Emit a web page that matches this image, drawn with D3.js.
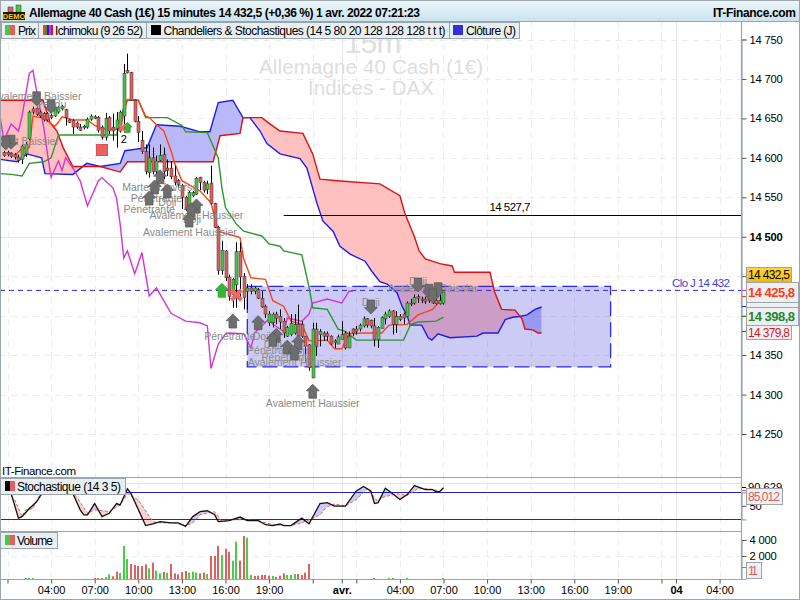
<!DOCTYPE html>
<html>
<head>
<meta charset="utf-8">
<script type="text/javascript" src="https://d3js.org/d3.v7.min.js"></script>
<title>Allemagne 40 Cash</title>
<style>
body { margin:0; background:#fff; }
text { font-family:"Liberation Sans", Arial, sans-serif; }
</style>
</head>
<body>
<div id="chart"></div>
<script type="text/javascript">
(function(){

// candles, bar index = quarter hours since 31 mar 00:00
var firstBar = 3;
var opens = [14607,14607,14606,14604,14601,14598,14605,14624,14662,14663,
  14658,14656,14656,14654,14653,14658,14662,14661,14648,14647,
  14644,14639,14638,14639,14649,14652,14651,14639,14626,14651,
  14639,14637,14634,14653,14711,14708,14673,14646,14622,14608,
  14581,14600,14583,14597,14604,14587,14587,14577,14571,14565,
  14550,14538,14552,14554,14575,14569,14560,14568,14542,14512,
  14457,14482,14449,14427,14439,14481,14450,14431,14435,14431,
  14433,14422,14412,14391,14391,14402,14399,14393,14374,14376,
  14378,14389,14389,14374,14363,14321,14383,14376,14378,14377,
  14374,14368,14364,14370,14378,14359,14383,14383,14383,14387,
  14396,14394,14387,14370,14384,14396,14399,14406,14389,14399,
  14402,14399,14416,14416,14424,14421,14421,14421,14421,14419,
  14415,14416];
var closes = [14603,14604,14602,14601,14597,14615,14617,14658,14658,14655,
  14653,14648,14648,14651,14662,14664,14665,14651,14645,14639,
  14639,14635,14640,14649,14653,14650,14635,14626,14650,14634,
  14634,14648,14658,14707,14708,14673,14646,14632,14608,14583,
  14600,14583,14596,14603,14583,14584,14576,14569,14566,14550,
  14535,14556,14556,14574,14569,14559,14567,14542,14512,14457,
  14483,14448,14424,14446,14481,14449,14423,14435,14431,14435,
  14422,14411,14402,14402,14402,14397,14392,14378,14385,14390,
  14389,14374,14374,14361,14334,14383,14361,14380,14374,14374,
  14364,14366,14373,14376,14359,14374,14378,14380,14388,14396,
  14388,14387,14370,14385,14398,14402,14406,14389,14399,14395,
  14397,14416,14415,14423,14422,14419,14418,14419,14416,14415,
  14419,14430];
var highs = [14609,14609,14607,14606,14604,14617,14620,14660,14665,14665,
  14660,14658,14658,14656,14663,14666,14667,14662,14649,14649,
  14646,14643,14642,14651,14655,14654,14653,14641,14657,14653,
  14656,14658,14660,14719,14732,14709,14674,14653,14634,14617,
  14617,14613,14603,14617,14613,14598,14596,14590,14573,14567,
  14552,14558,14558,14576,14576,14571,14571,14590,14543,14514,
  14495,14483,14452,14448,14493,14493,14454,14440,14440,14437,
  14435,14431,14414,14406,14404,14405,14408,14397,14387,14402,
  14402,14414,14393,14374,14364,14391,14391,14383,14380,14380,
  14375,14370,14376,14393,14380,14380,14384,14387,14390,14399,
  14397,14395,14397,14387,14399,14405,14408,14407,14406,14402,
  14404,14418,14421,14427,14427,14424,14424,14423,14423,14421,
  14427,14432];
var lows = [14601,14602,14600,14598,14594,14592,14601,14622,14655,14653,
  14651,14646,14646,14649,14652,14656,14660,14641,14644,14630,
  14637,14634,14636,14637,14647,14649,14632,14623,14622,14630,
  14622,14613,14632,14632,14707,14672,14645,14620,14605,14579,
  14575,14579,14579,14596,14573,14577,14573,14565,14562,14535,
  14533,14536,14550,14553,14559,14556,14554,14541,14511,14452,
  14452,14444,14419,14410,14410,14421,14408,14408,14427,14427,
  14421,14410,14397,14387,14385,14389,14383,14372,14373,14374,
  14376,14372,14372,14342,14330,14321,14349,14361,14368,14368,
  14363,14359,14364,14370,14357,14359,14374,14376,14380,14385,
  14385,14384,14361,14359,14384,14389,14397,14376,14378,14393,
  14389,14399,14412,14414,14416,14416,14415,14416,14415,14414,
  14414,14414];

// ichimoku, vertices: [bar, price]
var tenkan = [[6,14603],[8,14612],[10,14613],[11,14653],[14,14650],[17,14640],[18,14645],[19,14652],[22,14648],[26,14648],[28,14641],[30,14637],[35,14636],[36,14657],[37,14674],[40,14673],[42,14653],[43,14651],[45,14642],[47,14634],[49,14609],[50,14593],[52,14571],[57,14558],[60,14543],[62,14507],[68,14499],[69,14472],[71,14448],[75,14446],[77,14419],[80,14412],[82,14393],[85,14389],[87,14368],[92,14369],[94,14358],[96,14358],[98,14377],[102,14378],[107,14378],[109,14388],[114,14389],[117,14401],[121,14408],[124,14424]];
var kijun = [[2,14580],[5,14579],[8,14577],[10,14593],[14,14595],[16,14600],[18,14629],[34,14629],[36,14664],[37,14673],[40,14673],[42,14651],[48,14651],[52,14641],[53,14633],[59,14632],[62,14600],[63,14562],[64,14537],[67,14516],[69,14507],[74,14501],[76,14491],[79,14488],[80,14482],[85,14477],[87,14436],[88,14410],[92,14408],[95,14383],[97,14380],[100,14369],[113,14369],[115,14389],[117,14392],[122,14393],[124,14398]];
var senkouA = [[0,14598],[2,14598],[6.6,14595],[9.3,14605],[13.4,14600],[14.3,14580],[22,14579],[25.8,14593],[29.5,14589],[35,14593],[36.3,14609],[42.4,14613],[45,14642],[51.5,14640],[57,14633],[59.7,14633],[62,14670],[66,14673],[68.8,14651],[70.7,14651],[73.5,14634],[75.4,14618],[79,14605],[84.5,14599],[86.4,14587],[89.2,14542],[90.8,14520],[93.6,14507],[95.5,14488],[98.3,14478],[102.4,14469],[104.3,14456],[106.5,14443],[108.5,14440],[111.2,14429],[112.6,14412],[114,14400],[114.8,14388],[118,14388],[119.8,14372],[120.8,14369],[122.5,14377],[125.8,14372],[133.2,14374],[134.9,14378],[139,14378],[141,14395],[143,14398],[145,14399],[147,14401],[149.2,14408],[151,14411]];
var senkouB = [[0,14673],[13.8,14673],[15.7,14645],[17.6,14634],[19.3,14613],[22,14589],[29.5,14589],[35,14582],[37,14595],[60.6,14595],[62.5,14628],[68,14631],[68.8,14651],[74,14651],[76.2,14643],[79,14634],[85.3,14631],[88,14605],[90,14573],[94.7,14571],[106.5,14567],[112,14552],[113.4,14529],[116,14500],[117.3,14482],[119,14472],[123,14466],[126.4,14463],[127,14455],[136.8,14455],[138,14431],[140,14408],[143.7,14407],[145.6,14396],[146.4,14383],[148.6,14382],[150,14378],[151,14378]];
var chikou = [[2,14651],[3,14622],[5,14643],[7,14634],[8,14653],[10,14707],[11,14711],[12,14685],[14,14638],[15,14605],[16,14575],[18,14596],[19,14584],[20,14600],[22,14587],[24,14571],[26,14539],[29,14571],[30,14575],[33,14562],[34,14549],[35,14516],[36,14473],[37,14482],[39,14453],[41,14480],[43,14425],[45,14435],[47,14419],[49,14403],[53,14393],[57,14391],[59,14387],[60,14333],[62,14364],[64,14377],[65,14378],[69,14377],[71,14359],[72,14378],[76,14396],[77,14389],[80,14380],[81,14397],[85,14393],[87,14402],[88,14416],[92,14421],[96,14416],[98,14431],[99,14431]];

// stochastic
var stochK = [[5,77],[7,22.6],[8,26],[10,44],[12,59],[14,84],[18,93],[22,77],[24,41],[25,30],[26,30],[28,55],[30,26],[32,33.5],[34,55],[35,52],[37,88],[38,77],[42,6],[44,10],[46,15],[49,12],[51,12],[53,4.4],[55,26],[57,37],[59,39],[61,30],[62,15],[65,17],[68,25],[70,17],[73,17],[75,8],[77,6],[79,9.5],[80,6],[82,6],[85,22.6],[87,10],[90,55],[92,57],[94,49.5],[97,49.5],[100,83],[102,93],[104,83],[105,55],[106,57],[108,89],[110,77],[112,64],[114,75],[116,95],[119,86],[121,86],[122,81],[123,82],[124,90]];
var stochD = [[5,72],[6,63],[8,26],[9,41],[11,44],[13,77],[16,92],[20,92],[23,70],[26,33.5],[28,41],[32,37],[35,52],[37,77],[40,63],[44,15],[46,12],[50,12],[53,6],[55,12],[57,30],[61,37],[63,15],[66,19],[69,19],[73,17],[77,8],[82,6],[85,12],[87,19],[90,30],[92,48],[94,54],[97,49.5],[100,64],[103,88],[106,59],[107,68],[111,77],[114,73],[117,88],[120,88],[123,83],[124,85]];

// volume
var volumeBars = [9,10,11,28,29,30,31,32,33,34,35,36,37,38,39,40,41,42,43,44,45,46,47,48,49,50,51,52,53,54,55,56,57,58,59,60,61,62,63,64,65,66,67,68,69,70,71,72,73,74,75,76,77,78,79,80,81,82,83,84,85,86,87,105,109,110,114,124];
var volumeValues = [87,87,87,87,87,87,174,406,232,638,522,3250,1740,1305,1218,1131,1131,1276,928,1421,725,493,609,551,1305,493,406,609,696,551,638,551,493,551,435,2000,2000,3250,2125,2915,2540,1595,3790,1595,4500,4290,348,261,290,348,348,290,261,174,290,493,348,348,435,435,348,551,1305,87,87,87,87,87];
var volumeUp = [9,10,11,31,32,35,36,37,43,45,46,48,54,55,56,59,63,66,67,70,71,77,81,82,83,109,114,124];

// ticks
var priceTicks = [14750,14700,14650,14600,14550,14500,14450,14400,14350,14300,14250];
var timeBars = [4,16,28,40,52,64,76,88,96,100,112,124,136,148,160,172,184,188,200];
var timeLabels = ["","04:00","07:00","10:00","13:00","16:00","19:00","","avr.","","04:00","07:00","10:00","13:00","16:00","19:00","","04","04:00"];
var dayBars = [96,188];

// levels
var closeDay = 14432;
var level = 14527.7;
var levelBar = 80;
var boxBars = [70,170];
var boxPrices = [14437,14335];

// chart patterns
var upBars = [46,44.5,48,43,56,54.5,54,66,73,78,77,81,84,83,88];
var upPrices = [14585,14572,14567,14558,14548,14543,14530,14402,14400,14384,14379,14369,14375,14362,14313];
var downBars = [12,16,5,3.5,104,117,120,122.5,121];
var downPrices = [14666,14656,14611,14610,14402,14430,14422,14424,14416];
var labelTexts = ["Avalement Baissier","Pendu","Avalement Baissier","Doji","Marteau Inversé","Pénétrante","Doji","Pénétrante","Avalement Haussier","Doji","Avalement Haussier","Pénétrante","Doji","Doji","Pénétrante","Doji","Pénétrante","Avalement Haussier","Avalement Haussier","Doji","Doji","Avalement Baissier"];
var labelBars = [12,16,5.8,3.3,46,45,48,43,56,54.8,54.2,65.2,74,77,77,84,81,83,88,104,117,121];
var labelPrices = [14673,14663,14616,14616,14558,14544,14539,14530,14522,14517,14501,14369,14369,14359,14351,14351,14342,14336,14284,14412,14439,14430];

var legendItems = ["Prix","Ichimoku (9 26 52)","Chandeliers & Stochastiques (14 5 80 20 128 128 128 t t t)","Clôture (J)"];
var titleText = "Allemagne 40 Cash (1€) 15 minutes 14 432,5 (+0,36 %) 1 avr. 2022 07:21:23";

var w = 800, h = 600;
var axisX = 741;
var green = "#46c846", red = "#e06060", frame = "#9aa6ac";

var svg = d3.select("#chart").append("svg").attr("width", w).attr("height", h)
  .style("display", "block");
var defs = svg.append("defs");

var x = d3.scaleLinear().domain([0,200]).range([-7,719.6]);
var y = d3.scaleLinear().domain([14750,14250]).range([39.5,434]);
var yS = d3.scaleLinear().domain([80,20]).range([492.3,519.3]);
var yV = d3.scaleLinear().domain([0,2000,4000]).range([579,556,540]);

var frFormat = d3.formatLocale({decimal:",", thousands:" ", grouping:[3], currency:["","€"]}).format(",d");

// squeeze a text into the width it has in the picture
function fit(sel, len) { return sel.attr("textLength", len).attr("lengthAdjust", "spacing"); }

svg.append("rect").attr("width", w).attr("height", h).attr("fill", "#fff");

// ---- grid
function hGrid(vals, sc) {
  svg.append("g").selectAll("line").data(vals).enter().append("line")
    .attr("x1", 0).attr("x2", axisX).attr("y1", function(d){return Math.round(sc(d))+0.5;}).attr("y2", function(d){return Math.round(sc(d))+0.5;})
    .attr("stroke", function(d){return d==14500 ? "#e6e6e6" : "#ececec";})
    .attr("stroke-dasharray", function(d){return d==14500 ? null : "6,5";});
}
hGrid(priceTicks, y);
hGrid([2000], yV);
svg.append("g").selectAll("line").data(timeBars).enter().append("line")
  .attr("x1", function(d){return Math.round(x(d))+0.5;}).attr("x2", function(d){return Math.round(x(d))+0.5;})
  .attr("y1", 22).attr("y2", 579)
  .attr("stroke", function(d){return dayBars.indexOf(d)>=0 ? "#e6e6e6" : "#ececec";})
  .attr("stroke-dasharray", function(d){return dayBars.indexOf(d)>=0 ? null : "6,5";});

// ---- watermark
var mark = svg.append("g").attr("fill", "#dedede").attr("text-anchor", "middle");
fit(mark.append("text").attr("x", 373).attr("y", 53).attr("font-size", 30).text("15m"), 57);
fit(mark.append("text").attr("x", 371).attr("y", 74).attr("font-size", 20.5).text("Allemagne 40 Cash (1€)"), 224);
fit(mark.append("text").attr("x", 371).attr("y", 95).attr("font-size", 20.5).text("Indices - DAX"), 126);

// ---- cloud, each colour is the area under one line clipped above the other
function under(id, a, b, c0, c1, sc, par, bottom, top) {
  defs.append("clipPath").attr("id", id).append("path")
    .attr("d", d3.area().x(function(d){return x(d[0]);}).y0(top).y1(function(d){return sc(d[1]);})(b));
  par.append("path")
    .attr("d", d3.area().x(function(d){return x(d[0]);}).y0(bottom).y1(function(d){return sc(d[1]);})(a))
    .attr("fill", c0).attr("fill-opacity", c1).attr("clip-path", "url(#"+id+")");
}
var cloud = svg.append("g");
under("cA", senkouA, senkouB, "#b9b9fa", 1, y, cloud, 477, 39);
under("cB", senkouB, senkouA, "#ffc0c0", 1, y, cloud, 477, 39);

// ---- level box
svg.append("rect")
  .attr("x", x(boxBars[0])).attr("y", y(boxPrices[0]))
  .attr("width", x(boxBars[1])-x(boxBars[0])).attr("height", y(boxPrices[1])-y(boxPrices[0]))
  .attr("fill", "#4646dc").attr("fill-opacity", 0.28)
  .attr("stroke", "#2a2ae6").attr("stroke-width", 1.3).attr("stroke-dasharray", "15,6");

// ---- close of the day
svg.append("line").attr("x1", 0).attr("x2", axisX).attr("y1", y(closeDay)).attr("y2", y(closeDay))
  .attr("stroke", "#2a2ae6").attr("stroke-dasharray", "5,4");
fit(svg.append("text").attr("x", 730).attr("y", 287).attr("text-anchor", "end").attr("font-size", 11.5)
  .attr("fill", "#4040e0").text("Clo J "+frFormat(closeDay)), 58);

// ---- horizontal level
svg.append("line").attr("x1", x(levelBar)).attr("x2", axisX).attr("y1", Math.round(y(level))+0.5).attr("y2", Math.round(y(level))+0.5)
  .attr("stroke", "#000");
fit(svg.append("text").attr("x", 510).attr("y", 211).attr("text-anchor", "middle").attr("font-size", 11.5).text("14 527,7"), 41);

// ---- ichimoku lines
var plot = svg.append("g");
var line = d3.line().x(function(d){return x(d[0]);}).y(function(d){return y(d[1]);});
function drawLine(data, col) {
  plot.append("path").attr("d", line(data)).attr("fill", "none").attr("stroke", col).attr("stroke-width", 1.4);
}
drawLine(senkouA, "#1c1cf0");
drawLine(senkouB, "#e01010");
drawLine(chikou, "#d633d6");
drawLine(kijun, "#2f962f");
drawLine(tenkan, "#ff4412");

// ---- candles
var bars = d3.range(opens.length);
var cg = svg.append("g");
cg.selectAll("line").data(bars).enter().append("line")
  .attr("x1", function(i){return Math.round(x(i+firstBar))+0.5;})
  .attr("x2", function(i){return Math.round(x(i+firstBar))+0.5;})
  .attr("y1", function(i){return y(highs[i]);})
  .attr("y2", function(i){return y(lows[i]);})
  .attr("stroke", "#000");
cg.selectAll("rect").data(bars).enter().append("rect")
  .attr("x", function(i){return Math.round(x(i+firstBar))-1;})
  .attr("width", 3)
  .attr("y", function(i){return y(Math.max(opens[i],closes[i]));})
  .attr("height", function(i){return Math.max(1, Math.abs(y(opens[i])-y(closes[i])));})
  .attr("fill", function(i){return closes[i]>=opens[i] ? green : red;})
  .attr("stroke", "#333").attr("stroke-width", 0.5);

// ---- pattern arrows and labels
var lab = svg.append("g").attr("fill", "#8a8a8a").attr("font-size", 10.5).attr("text-anchor", "middle");
lab.selectAll("text").data(labelTexts).enter().append("text")
  .attr("x", function(d,i){return x(labelBars[i]);})
  .attr("y", function(d,i){return y(labelPrices[i]);})
  .text(function(d){return d;});

function arrow(px, py, dir, s, col, edge) {
  // tip at px,py. dir -1 points up, 1 points down
  var p = d3.path();
  p.moveTo(px, py);
  p.lineTo(px+6.5*s, py-dir*6.5*s);
  p.lineTo(px+3.8*s, py-dir*6.5*s);
  p.lineTo(px+3.8*s, py-dir*14*s);
  p.lineTo(px-3.8*s, py-dir*14*s);
  p.lineTo(px-3.8*s, py-dir*6.5*s);
  p.lineTo(px-6.5*s, py-dir*6.5*s);
  p.closePath();
  return svg.append("path").attr("d", p.toString()).attr("fill", col).attr("stroke", edge).attr("stroke-width", 0.7);
}
upBars.forEach(function(b,i){ arrow(x(b), y(upPrices[i]), -1, 1, "#6e6e6e", "#555"); });
downBars.forEach(function(b,i){ arrow(x(b), y(downPrices[i]), 1, 1, "#6e6e6e", "#555"); });

// signals
arrow(x(63), y(14441), -1, 1, "#35b835", "#2a9a2a");
arrow(x(37), y(14645), -1, 0.72, "#35b835", "#2a9a2a");
svg.append("path").attr("d", d3.symbol().type(d3.symbolX).size(70)()).attr("transform", "translate("+x(67)+","+y(14426)+")")
  .attr("stroke", "#ee6868").attr("stroke-width", 4).attr("fill", "none");
svg.append("path").attr("d", d3.symbol().type(d3.symbolX).size(30)()).attr("transform", "translate("+x(35.5)+","+y(14638)+")")
  .attr("stroke", "#ee6868").attr("stroke-width", 2.5).attr("fill", "none");
svg.append("rect").attr("x", x(30)-5.5).attr("y", y(14610)-5.5).attr("width", 11).attr("height", 11)
  .attr("fill", "#ee5f5f").attr("stroke", "#d85050");
svg.append("text").attr("x", x(36)).attr("y", y(14619)).attr("text-anchor", "middle").attr("font-size", 11).text("2");

// ---- stochastic
var stPanel = svg.append("g");
under("sA", stochK, stochD, "#b9b9f0", 0.75, yS, stPanel, 531, 478);
under("sB", stochD, stochK, "#f5c4c4", 0.75, yS, stPanel, 531, 478);
var sLine = d3.line().x(function(d){return x(d[0]);}).y(function(d){return yS(d[1]);});
stPanel.selectAll("line").data([80,20]).enter().append("line")
  .attr("x1", 0).attr("x2", axisX).attr("y1", function(d){return Math.round(yS(d))+0.5;}).attr("y2", function(d){return Math.round(yS(d))+0.5;})
  .attr("stroke", "#2222cc");
stPanel.append("path").attr("d", sLine(stochD)).attr("fill", "none").attr("stroke", "#e06060").attr("stroke-dasharray", "3,2");
stPanel.append("path").attr("d", sLine(stochK)).attr("fill", "none").attr("stroke", "#111").attr("stroke-width", 1.3);

// ---- volume
svg.append("g").selectAll("rect").data(volumeValues).enter().append("rect")
  .attr("x", function(d,i){return Math.round(x(volumeBars[i]))-1;})
  .attr("width", 2)
  .attr("y", function(d){return yV(d);})
  .attr("height", function(d){return 579-yV(d);})
  .attr("fill", function(d,i){return volumeUp.indexOf(volumeBars[i])>=0 ? "#48cf48" : "#e06060";});

// ---- frames
function hRule(yy, col) {
  svg.append("line").attr("x1", 0).attr("x2", axisX).attr("y1", yy).attr("y2", yy).attr("stroke", col);
}
hRule(483.5, "#e4e4e4");
hRule(477.5, frame);
hRule(531.5, frame);
hRule(579.5, frame);
fit(svg.append("text").attr("x", 2).attr("y", 475).attr("font-size", 11.5).text("IT-Finance.com"), 74);

// ---- axes
var axisFont = '"Liberation Sans", Arial, sans-serif';
function styleAxis(g) {
  g.select(".domain").attr("stroke", frame).attr("stroke-width", 1.2);
  g.selectAll("text").attr("font-family", axisFont).attr("font-size", 11.2).attr("letter-spacing", -0.2).attr("fill", "#000");
  g.selectAll("line").attr("stroke", "#555");
}
var priceAxis = svg.append("g").attr("transform", "translate("+(axisX+0.5)+",0)")
  .call(d3.axisRight(y).tickValues(priceTicks).tickSize(5).tickPadding(3).tickFormat(frFormat));
styleAxis(priceAxis);
priceAxis.selectAll(".tick text").attr("font-weight", function(d){return d==14500 ? "bold" : null;});
var stAxis = svg.append("g").attr("transform", "translate("+(axisX+0.5)+",0)")
  .call(d3.axisRight(yS).tickValues([50]).tickSize(5).tickPadding(3));
styleAxis(stAxis);
var volAxis = svg.append("g").attr("transform", "translate("+(axisX+0.5)+",0)")
  .call(d3.axisRight(yV).tickValues([2000,4000]).tickSize(5).tickPadding(3).tickFormat(frFormat));
styleAxis(volAxis);
svg.append("line").attr("x1", axisX+0.5).attr("x2", axisX+0.5).attr("y1", 22).attr("y2", 579.5).attr("stroke", frame).attr("stroke-width", 1.2);
var timeAxis = svg.append("g").attr("transform", "translate(0,579.5)")
  .call(d3.axisBottom(x).tickValues(timeBars).tickSize(4).tickPadding(3).tickFormat(function(d,i){return timeLabels[i];}));
timeAxis.select(".domain").remove();
timeAxis.selectAll("text").attr("font-family", axisFont).attr("font-size", 11).attr("fill", "#000")
  .attr("font-weight", function(d){return dayBars.indexOf(d)>=0 ? "bold" : null;});
timeAxis.selectAll("line").attr("stroke", "#555");
svg.append("text").attr("x", 748).attr("y", 491).attr("font-size", 11.2).text("90,629");

// ---- value tags on the right
function tag(x0, y0, wd, ht, txt, col, bold, size, len, fill) {
  svg.append("rect").attr("x", x0+0.5).attr("y", y0+0.5).attr("width", wd).attr("height", ht)
    .attr("fill", fill || "#eef1f3").attr("stroke", frame);
  fit(svg.append("text").attr("x", x0+2).attr("y", y0+ht/2+size*0.36+0.5)
    .attr("font-size", size).attr("font-weight", bold ? "bold" : null).attr("fill", col).text(txt), len);
}
function tick(yy, col) {
  svg.append("line").attr("x1", axisX+1).attr("x2", 746).attr("y1", yy).attr("y2", yy).attr("stroke", col);
}
tick(290.5, "#d633d6"); tick(296.5, "#ff4412"); tick(306.5, "#1c1cf0"); tick(316.5, "#2f962f"); tick(331.5, "#e01010");
tick(487.5, "#000"); tick(490.5, "#e06060"); tick(567.5, "#e06060");

defs.append("linearGradient").attr("id", "gold").attr("x1", 0).attr("y1", 0).attr("x2", 0).attr("y2", 1)
  .selectAll("stop").data([["0%","#ffd83a"],["100%","#f5b800"]]).enter().append("stop")
  .attr("offset", function(d){return d[0];}).attr("stop-color", function(d){return d[1];});
tag(746, 267, 45, 15, "14 432,5", "#000", false, 12, 42, "url(#gold)");
tag(746, 302, 52, 18, "14 411,2", "#1c1cf0", false, 12, 44);
tag(746, 282, 52, 20, "14 425,8", "#ff3a10", true, 13, 47);
tag(746, 307, 52, 18, "14 398,8", "#22882a", true, 13, 47);
tag(746, 325, 45, 14, "14 379,8", "#d41a1a", false, 12, 42);
tag(746, 488, 36, 16, "85,012", "#e06060", false, 12, 32);
tag(746, 562, 15, 16, "11", "#e06060", false, 12, 10);

// ---- header
defs.append("linearGradient").attr("id", "head").attr("x1", 0).attr("y1", 0).attr("x2", 0).attr("y2", 1)
  .selectAll("stop").data([["0%","#edf7fb"],["100%","#c9e2ee"]]).enter().append("stop")
  .attr("offset", function(d){return d[0];}).attr("stop-color", function(d){return d[1];});
svg.append("rect").attr("width", w).attr("height", 22).attr("fill", "url(#head)");
svg.append("line").attr("x1", 0).attr("x2", w).attr("y1", 0.5).attr("y2", 0.5).attr("stroke", frame);
svg.append("line").attr("x1", 0).attr("x2", w).attr("y1", 21.5).attr("y2", 21.5).attr("stroke", frame);
fit(svg.append("text").attr("x", 29).attr("y", 17).attr("font-size", 12).attr("font-weight", "bold").text(titleText), 391);
fit(svg.append("text").attr("x", 796).attr("y", 17).attr("text-anchor", "end").attr("font-size", 12).attr("font-weight", "bold").text("IT-Finance.com"), 83);

// demo badge
svg.append("rect").attr("x", 8).attr("y", 7).attr("width", 5).attr("height", 5).attr("fill", "#e06060").attr("stroke", "#333").attr("stroke-width", 0.5);
svg.append("rect").attr("x", 16).attr("y", 5).attr("width", 5).attr("height", 7).attr("fill", "#46c846").attr("stroke", "#333").attr("stroke-width", 0.5);
svg.append("rect").attr("x", 3).attr("y", 12).attr("width", 22).attr("height", 8).attr("fill", "#111");
svg.append("text").attr("x", 14).attr("y", 19).attr("text-anchor", "middle").attr("font-size", 7.5).attr("font-weight", "bold").attr("fill", "#f5d000").text("DEMO");

// legend row
var legendX = [1,38,146,449], legendW = [37,108,303,70], legendTextX = [18,55,163.5,466], legendLen = [18,88,282,50];
legendItems.forEach(function(t,i){
  svg.append("rect").attr("x", legendX[i]+0.5).attr("y", 22.5).attr("width", legendW[i]).attr("height", 16)
    .attr("fill", "#e8eff3").attr("stroke", frame);
  fit(svg.append("text").attr("x", legendTextX[i]).attr("y", 35).attr("font-size", 12).text(t), legendLen[i]);
});
function swatch(x0, y0, cols, wd) {
  var sw = wd/cols.length;
  cols.forEach(function(c,i){
    svg.append("rect").attr("x", x0+i*sw).attr("y", y0).attr("width", sw).attr("height", 10).attr("fill", c);
  });
}
swatch(5, 25, [green, red], 10);
swatch(43, 25, ["#ff4412","#2f962f","#1c1cf0","#d633d6","#e01010"], 10);
swatch(151, 25, ["#000"], 10);
swatch(453, 25, ["#3030e0"], 10);

// panel legends
[["Stochastique (14 3 5)", 0, 478, 125, ["#000", red], 104], ["Volume", 0, 532, 57, [green, red], 36]].forEach(function(d){
  svg.append("rect").attr("x", d[1]+0.5).attr("y", d[2]+0.5).attr("width", d[3]).attr("height", 16)
    .attr("fill", "#e8eff3").attr("stroke", frame);
  fit(svg.append("text").attr("x", 17).attr("y", d[2]+13).attr("font-size", 12).text(d[0]), d[5]);
  swatch(5, d[2]+3, d[4], 10);
});

// outer border
svg.append("rect").attr("x", 0.5).attr("y", 0.5).attr("width", w-1).attr("height", h-1).attr("fill", "none").attr("stroke", frame);

})();
</script>
</body></html>
